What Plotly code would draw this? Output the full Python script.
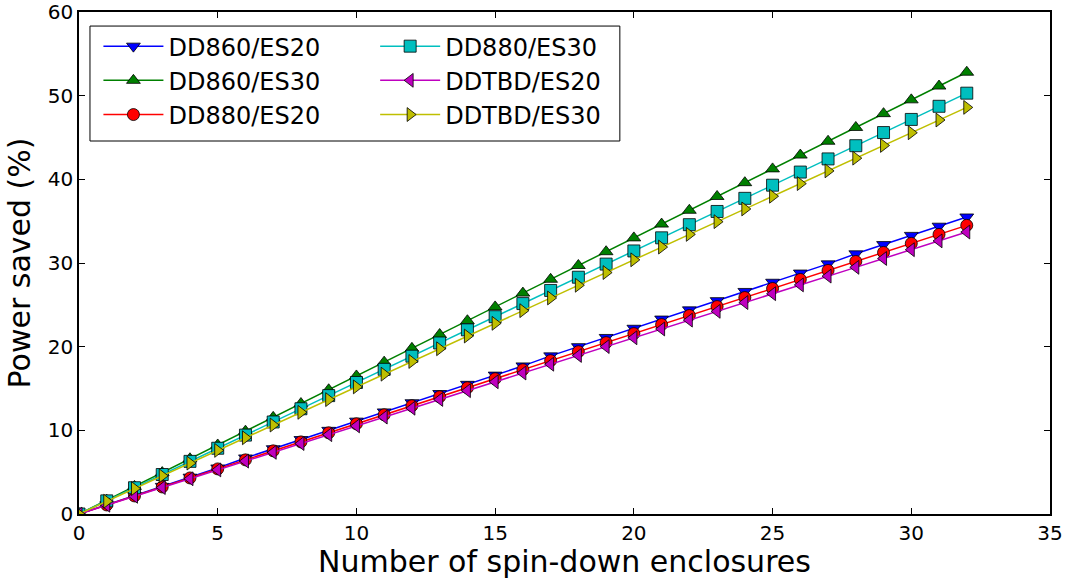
import plotly.graph_objects as go

x_vals = list(range(0, 33))

dd860_es20 = [0, 1.1, 2.2, 3.3, 4.4, 5.5, 6.7, 7.8, 8.9, 10.0, 11.1, 12.2, 13.3, 14.4, 15.5, 16.6,
              17.7, 18.9, 20.0, 21.1, 22.2, 23.3, 24.4, 25.5, 26.6, 27.7, 28.8, 29.9, 31.1, 32.2,
              33.3, 34.4, 35.5]
dd860_es30 = [0, 1.65, 3.3, 4.95, 6.6, 8.25, 9.9, 11.55, 13.2, 14.85, 16.5, 18.15, 19.8, 21.45,
              23.1, 24.75, 26.4, 28.05, 29.7, 31.35, 33.0, 34.65, 36.3, 37.95, 39.6, 41.25, 42.9,
              44.55, 46.2, 47.85, 49.5, 51.15, 52.8]
dd880_es20 = [0, 1.08, 2.16, 3.23, 4.31, 5.39, 6.47, 7.55, 8.62, 9.7, 10.78, 11.86, 12.94, 14.01,
              15.09, 16.17, 17.25, 18.33, 19.4, 20.48, 21.56, 22.64, 23.72, 24.79, 25.87, 26.95,
              28.03, 29.11, 30.18, 31.26, 32.34, 33.42, 34.5]
dd880_es30 = [0, 1.57, 3.14, 4.72, 6.29, 7.86, 9.43, 11.0, 12.58, 14.15, 15.72, 17.29, 18.86,
              20.44, 22.01, 23.58, 25.15, 26.72, 28.3, 29.87, 31.44, 33.01, 34.58, 36.16, 37.73,
              39.3, 40.87, 42.44, 44.02, 45.59, 47.16, 48.73, 50.3]
ddtbd_es20 = [0, 1.05, 2.11, 3.16, 4.21, 5.27, 6.32, 7.37, 8.42, 9.48, 10.53, 11.58, 12.64, 13.69,
              14.74, 15.8, 16.85, 17.9, 18.95, 20.01, 21.06, 22.11, 23.17, 24.22, 25.27, 26.33,
              27.38, 28.43, 29.48, 30.54, 31.59, 32.64, 33.7]
ddtbd_es30 = [0, 1.52, 3.04, 4.56, 6.08, 7.6, 9.11, 10.63, 12.15, 13.67, 15.19, 16.71, 18.23,
              19.75, 21.27, 22.79, 24.3, 25.82, 27.34, 28.86, 30.38, 31.9, 33.42, 34.94, 36.46,
              37.98, 39.49, 41.01, 42.53, 44.05, 45.57, 47.09, 48.6]

x_ticks = [0, 5, 10, 15, 20, 25, 30, 35]
y_ticks = [0, 10, 20, 30, 40, 50, 60]

series = [
    ("DD860/ES20", dd860_es20, "#0000ff", "triangle-down", "legend"),
    ("DD860/ES30", dd860_es30, "#008000", "triangle-up", "legend"),
    ("DD880/ES20", dd880_es20, "#ff0000", "circle", "legend"),
    ("DD880/ES30", dd880_es30, "#00bfbf", "square", "legend2"),
    ("DDTBD/ES20", ddtbd_es20, "#bf00bf", "triangle-left", "legend2"),
    ("DDTBD/ES30", ddtbd_es30, "#bfbf00", "triangle-right", "legend2"),
]

fig = go.Figure()
for name, vals, color, sym, leg in series:
    fig.add_trace(go.Scatter(
        x=x_vals, y=vals, name=name, mode="lines+markers",
        line=dict(color=color, width=1.5),
        marker=dict(symbol=sym, size=12, color=color, line=dict(color="black", width=0.8)),
        legend=leg, legendgroup=name,
    ))

font = "DejaVu Sans, sans-serif"
axis_common = dict(showline=True, linecolor="black", linewidth=1.5, mirror="ticks",
                   ticks="inside", ticklen=6, tickcolor="black", tickwidth=1, showgrid=False,
                   zeroline=False, automargin=False,
                   tickfont=dict(size=20, color="black", family=font))

fig.update_layout(
    width=1069, height=582,
    margin=dict(l=79, r=19, t=12, b=68),
    plot_bgcolor="white", paper_bgcolor="white",
    font=dict(family=font, color="black"),
    xaxis=dict(range=[0, 35], tickvals=x_ticks, **axis_common),
    yaxis=dict(range=[0, 60], tickvals=y_ticks,
               title=dict(text="Power saved (%)", font=dict(size=30), standoff=8),
               **axis_common),
    legend=dict(x=0.020, y=0.976, xanchor="left", yanchor="top", bgcolor="rgba(0,0,0,0)",
                font=dict(size=24), tracegroupgap=0, itemwidth=60),
    legend2=dict(x=0.305, y=0.976, xanchor="left", yanchor="top", bgcolor="rgba(0,0,0,0)",
                 font=dict(size=24), tracegroupgap=0, itemwidth=60),
    shapes=[dict(type="rect", xref="paper", yref="paper", x0=0.0113, x1=0.557,
                 y0=0.743, y1=0.972, line=dict(color="black", width=1), fillcolor="rgba(0,0,0,0)")],
    annotations=[dict(text="Number of spin-down enclosures", xref="paper", yref="paper",
                      x=0.5, y=-0.094, xanchor="center", yanchor="middle", showarrow=False,
                      font=dict(size=30, color="black", family=font))],
)

fig.write_html("out.html", config={"displayModeBar": False},
               post_script="document.body.style.margin='0';")
